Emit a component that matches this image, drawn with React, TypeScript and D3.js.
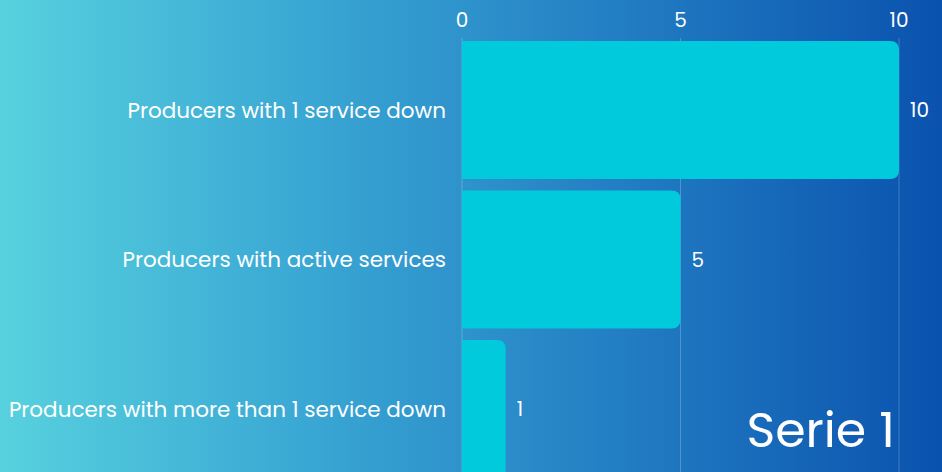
import React from "react";
import * as d3 from "d3";

const categories = [
  "Producers with 1 service down",
  "Producers with active services",
  "Producers with more than 1 service down",
];
const values = [10, 5, 1];
const ticks = [0, 5, 10];
const seriesName = "Serie 1";

const W = 942;
const H = 472;
const FONT = "Poppins, 'Open Sans', Lato, sans-serif";

function barPath(x0: number, x1: number, y: number, h: number, r: number) {
  const rr = Math.min(r, (x1 - x0) / 2, h / 2);
  return `M${x0},${y}H${x1 - rr}Q${x1},${y} ${x1},${y + rr}V${y + h - rr}Q${x1},${y + h} ${x1 - rr},${y + h}H${x0}Z`;
}

export default function App() {
  const x = d3.scaleLinear().domain([0, 10]).range([462, 899]);
  const y = d3
    .scaleBand<string>()
    .domain(categories)
    .range([35.25, 483.75])
    .paddingInner(0.077)
    .paddingOuter(0.0385);
  const bw = y.bandwidth();

  return (
    <div style={{ position: "fixed", left: 0, top: 0, width: W, height: H }}>
      <svg width={W} height={H} style={{ display: "block" }}>
        <defs>
          <linearGradient id="bg" x1="0" x2="1" y1="0" y2="0">
            <stop offset="0" stopColor="#57d1de" />
            <stop offset="0.32" stopColor="#3aa8d4" />
            <stop offset="0.64" stopColor="#2480c4" />
            <stop offset="1" stopColor="#0a52ae" />
          </linearGradient>
        </defs>
        <rect x={0} y={0} width={W} height={H} fill="url(#bg)" />
        {ticks.map((t) => (
          <line
            key={"g" + t}
            x1={x(t)}
            x2={x(t)}
            y1={38}
            y2={H}
            stroke="#ffffff"
            strokeOpacity={0.22}
            strokeWidth={1}
          />
        ))}
        {ticks.map((t) => (
          <text
            key={"t" + t}
            x={x(t)}
            y={20}
            fill="#ffffff"
            fontFamily={FONT}
            fontSize={20}
            textAnchor="middle"
            dominantBaseline="central"
          >
            {t}
          </text>
        ))}
        {categories.map((c, i) => {
          const yy = y(c)!;
          return (
            <g key={c}>
              <path d={barPath(x(0), x(values[i]), yy, bw, 9)} fill="#00cadc" />
              <text
                x={446}
                y={yy + bw / 2}
                fill="#ffffff"
                fontFamily={FONT}
                fontSize={21.5}
                textAnchor="end"
                dominantBaseline="central"
              >
                {c}
              </text>
              <text
                x={x(values[i]) + 11}
                y={yy + bw / 2}
                fill="#ffffff"
                fontFamily={FONT}
                fontSize={20}
                textAnchor="start"
                dominantBaseline="central"
              >
                {values[i]}
              </text>
            </g>
          );
        })}
        <text
          x={895}
          y={430}
          fill="#ffffff"
          fontFamily={FONT}
          fontSize={49}
          textAnchor="end"
          dominantBaseline="central"
        >
          {seriesName}
        </text>
      </svg>
    </div>
  );
}
